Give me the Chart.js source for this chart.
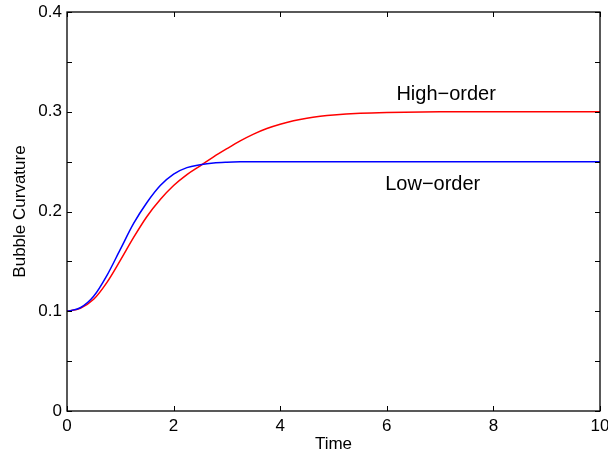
<!DOCTYPE html>
<html>
<head>
<meta charset="utf-8">
<script src="https://cdn.jsdelivr.net/npm/chart.js@4"></script>
<style>
  html, body { margin: 0; padding: 0; background: #fff; }
  #wrap { width: 608px; height: 456px; position: relative; }
</style>
</head>
<body>
<div id="wrap"><canvas id="c"></canvas></div>
<script>
'use strict';

// values
const time = [0, 0.25, 0.5, 0.75, 1, 1.25, 1.5, 1.75, 2, 2.25, 2.5, 2.75, 3, 3.25, 3.5, 3.75, 4, 4.25, 4.5, 4.75, 5, 5.5, 6, 7, 8, 9, 10];
const lowOrder = [0.100, 0.1035, 0.115, 0.136, 0.162, 0.188, 0.209, 0.226, 0.2375, 0.244, 0.2468, 0.2486, 0.2494, 0.2498, 0.2499, 0.25, 0.25, 0.25, 0.25, 0.25, 0.25, 0.25, 0.25, 0.25, 0.25, 0.25, 0.25];
const highOrder = [0.100, 0.103, 0.112, 0.129, 0.151, 0.174, 0.195, 0.212, 0.226, 0.237, 0.2458, 0.2548, 0.263, 0.2708, 0.2776, 0.2832, 0.2875, 0.2909, 0.2935, 0.2954, 0.2968, 0.2985, 0.2993, 0.2999, 0.3, 0.3, 0.3];
const xTicks = [0, 2, 4, 6, 8, 10];
const yTicks = [0, 0.05, 0.1, 0.15, 0.2, 0.25, 0.3, 0.35, 0.4];

const FONT = '"Liberation Sans", Arial, Helvetica, sans-serif';

const pts = (ys) => time.map((t, i) => ({ x: t, y: ys[i] }));

// text labels placed in data units (left edge, vertical middle)
const notes = [
  { text: 'High\u2212order', x: 6.18, y: 0.317 },
  { text: 'Low\u2212order', x: 5.97, y: 0.227 },
];

// MATLAB-like box with inward ticks on all four sides
const frame = {
  id: 'frame',
  afterDatasetsDraw(chart) {
    const { ctx, chartArea: a, scales: { x, y } } = chart;
    ctx.save();
    ctx.strokeStyle = '#000';
    ctx.lineWidth = 1;
    ctx.beginPath();
    xTicks.forEach((v) => {
      const px = Math.round(x.getPixelForValue(v)) + 0.5;
      ctx.moveTo(px, a.bottom); ctx.lineTo(px, a.bottom - 5);
      ctx.moveTo(px, a.top); ctx.lineTo(px, a.top + 5);
    });
    yTicks.forEach((v) => {
      const py = Math.round(y.getPixelForValue(v)) + 0.5;
      ctx.moveTo(a.left, py); ctx.lineTo(a.left + 5, py);
      ctx.moveTo(a.right, py); ctx.lineTo(a.right - 5, py);
    });
    ctx.stroke();
    ctx.lineWidth = 1.3;
    ctx.strokeRect(a.left, a.top, a.right - a.left, a.bottom - a.top);

    ctx.fillStyle = '#000';
    ctx.font = '20px ' + FONT;
    ctx.textAlign = 'left';
    ctx.textBaseline = 'middle';
    notes.forEach((n) => ctx.fillText(n.text, x.getPixelForValue(n.x), y.getPixelForValue(n.y)));
    ctx.restore();
  },
};

new Chart(document.getElementById('c'), {
  type: 'line',
  data: {
    datasets: [
      { label: 'Low-order', data: pts(lowOrder), borderColor: '#0000ff', borderWidth: 1.5, pointRadius: 0, cubicInterpolationMode: 'monotone', fill: false },
      { label: 'High-order', data: pts(highOrder), borderColor: '#ff0000', borderWidth: 1.5, pointRadius: 0, cubicInterpolationMode: 'monotone', fill: false },
    ],
  },
  options: {
    responsive: true,
    maintainAspectRatio: false,
    animation: false,
    layout: { padding: { left: 0, top: 12, right: 8, bottom: 0 } },
    plugins: { legend: { display: false }, tooltip: { enabled: false } },
    scales: {
      x: {
        type: 'linear', min: 0, max: 10,
        grid: { display: false, drawTicks: false },
        border: { display: false },
        ticks: { stepSize: 2, color: '#000', padding: 5, maxRotation: 0, font: { family: FONT, size: 17 } },
        title: { display: true, text: 'Time', color: '#000', padding: { top: 0, bottom: 1 }, font: { family: FONT, size: 17 } },
        afterFit: (s) => { s.height = 45; s.paddingLeft = 0; s.paddingRight = 0; },
      },
      y: {
        min: 0, max: 0.4,
        grid: { display: false, drawTicks: false },
        border: { display: false },
        ticks: {
          stepSize: 0.05, color: '#000', padding: 5, font: { family: FONT, size: 17 },
          callback: (v) => {
            const k = Math.round(v * 10);
            return Math.abs(v * 10 - k) < 1e-6 ? String(k / 10) : '';
          },
        },
        title: { display: true, text: 'Bubble Curvature', color: '#000', padding: { top: 10, bottom: 0 }, font: { family: FONT, size: 17 } },
        afterFit: (s) => { s.width = 67; s.paddingTop = 0; s.paddingBottom = 0; },
      },
    },
  },
  plugins: [frame],
});
</script>
</body>
</html>
